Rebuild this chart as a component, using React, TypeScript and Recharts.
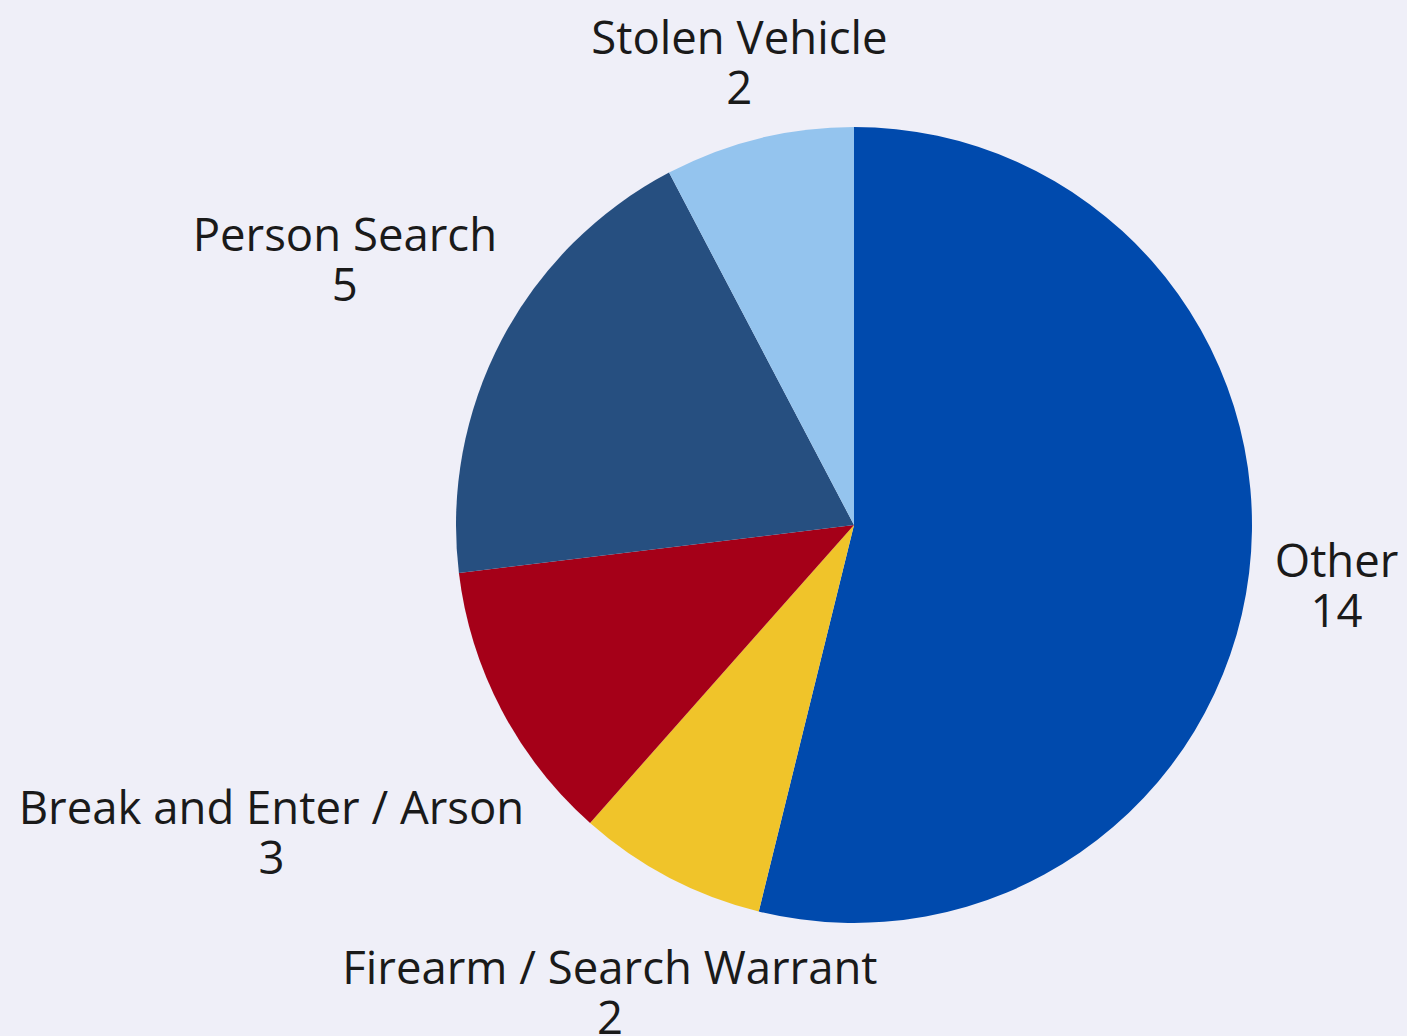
import { PieChart, Pie, Cell } from 'recharts'

const categories = ['Other', 'Firearm / Search Warrant', 'Break and Enter / Arson', 'Person Search', 'Stolen Vehicle']
const counts = [14, 2, 3, 5, 2]
const colors = ['#004aad', '#f0c42a', '#a50018', '#264f80', '#94c4ee']

const data = categories.map((name, i) => ({ name, value: counts[i] }))

const FONT_SIZE = 45.5
const FONT = `${FONT_SIZE}px "Open Sans"`
const LABEL_GAP = 23
const HALF_H = 44

let ctx: CanvasRenderingContext2D | null = null
function textWidth(s: string) {
  if (!ctx) ctx = document.createElement('canvas').getContext('2d')
  if (!ctx) return s.length * FONT_SIZE * 0.52
  ctx.font = FONT
  return ctx.measureText(s).width
}

// push the label box out along the slice's mid angle until its nearest edge clears the pie
// eslint-disable-next-line @typescript-eslint/no-explicit-any
function renderLabel(props: any) {
  const { cx, cy, midAngle, outerRadius, name, value } = props
  const rad = (-midAngle * Math.PI) / 180
  const dx = Math.cos(rad)
  const dy = Math.sin(rad)
  const hw = Math.max(textWidth(name), textWidth(String(value))) / 2
  const target = outerRadius + LABEL_GAP
  const dist = (t: number) => {
    const nx = Math.max(0, Math.abs(dx * t) - hw)
    const ny = Math.max(0, Math.abs(dy * t) - HALF_H)
    return Math.hypot(nx, ny)
  }
  let lo = 0
  let hi = outerRadius * 3
  for (let i = 0; i < 50; i++) {
    const mid = (lo + hi) / 2
    if (dist(mid) < target) lo = mid
    else hi = mid
  }
  const x = cx + dx * hi
  const y = cy + dy * hi
  return (
    <text x={x} y={y} textAnchor="middle" fill="#1a1a1a" fontSize={FONT_SIZE} fontFamily='"Open Sans"'>
      <tspan x={x} y={y - 6.5}>{name}</tspan>
      <tspan x={x} y={y + 43.5}>{value}</tspan>
    </text>
  )
}

export default function App() {
  return (
    <div style={{ position: 'absolute', left: 0, top: 0, width: 1407, height: 1036, background: '#efeff8' }}>
      <PieChart width={1407} height={1036} margin={{ top: 0, right: 0, bottom: 0, left: 0 }}>
        <Pie
          data={data}
          dataKey="value"
          nameKey="name"
          cx={854}
          cy={525}
          outerRadius={398}
          startAngle={90}
          endAngle={-270}
          stroke="none"
          label={renderLabel}
          labelLine={false}
          isAnimationActive={false}
        >
          {data.map((d, i) => (
            <Cell key={d.name} fill={colors[i]} />
          ))}
        </Pie>
      </PieChart>
    </div>
  )
}
